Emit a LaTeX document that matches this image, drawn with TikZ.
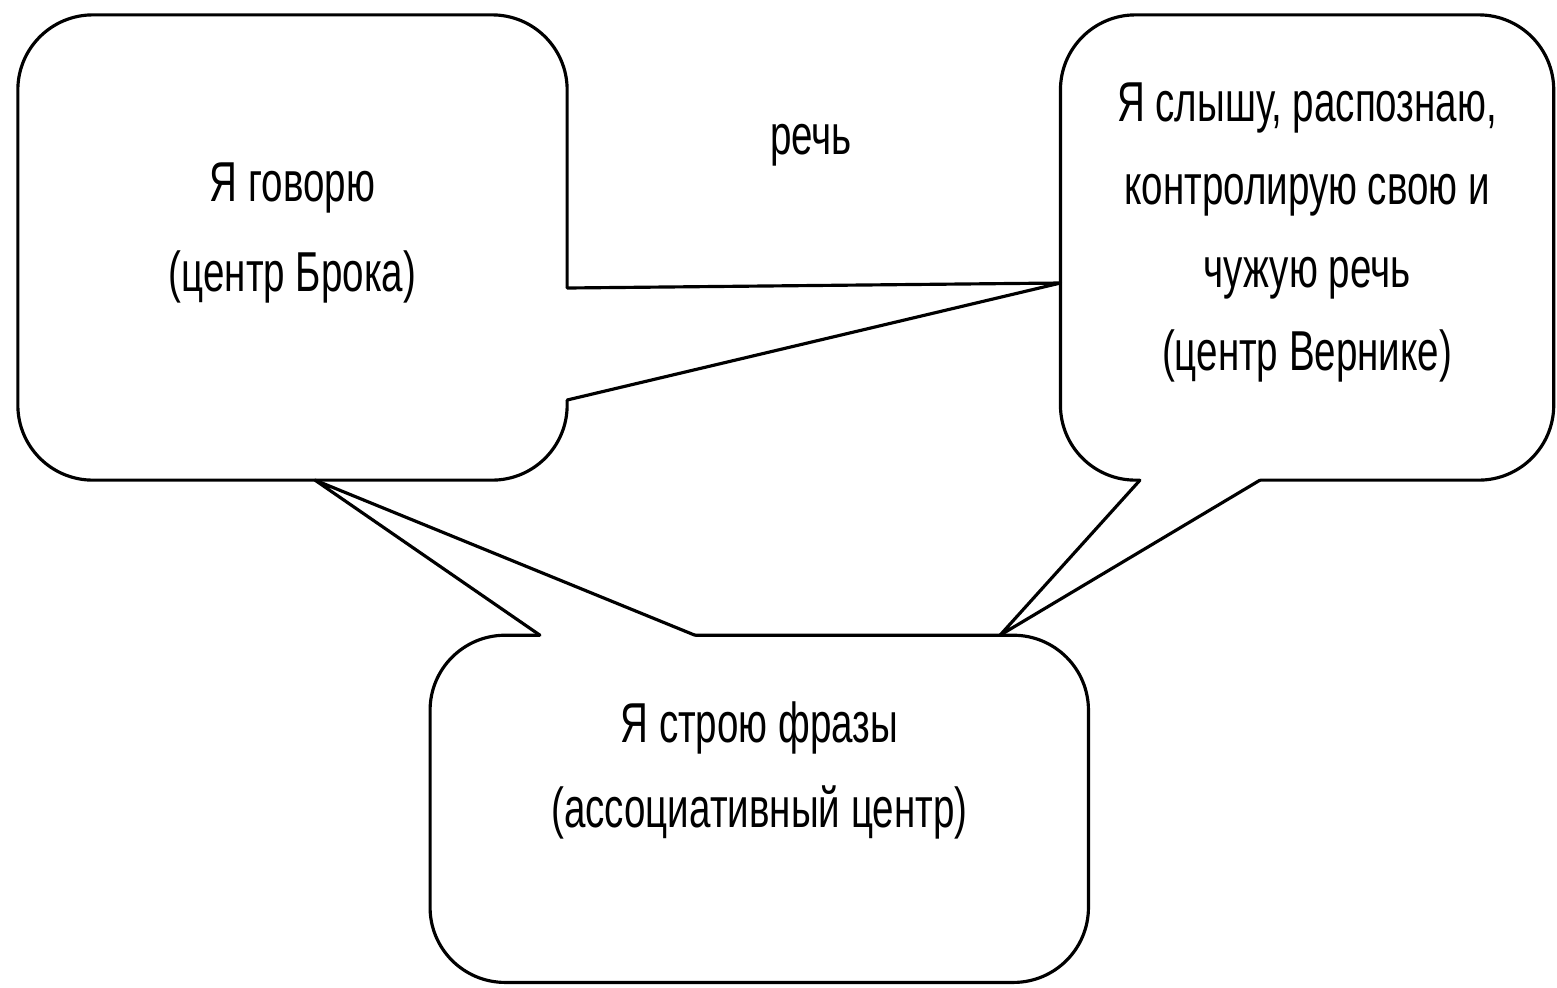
\documentclass[tikz,border=0pt]{standalone}
\usepackage{fontspec}
\setmainfont{Liberation Sans}[FakeStretch=0.685]
\usetikzlibrary{positioning}
\tikzset{centre/.style={draw,
                        fill=white,
                        line width=0.9pt,
                        rounded corners=0.75cm,
                        inner sep=0pt,
                        outer sep=0pt
                        },
        centretext/.style={align=center,
                        font=\fontsize{16}{25.6}\selectfont
                        },
        pointer/.style={line width=0.9pt,
                        line cap=round,
                        line join=round
                        },
}
\begin{document}
\begin{tikzpicture}
    [x=0.01cm,y=-0.01cm]
    \useasboundingbox (0,0) rectangle (1557,987);

    % CENTRES
    \node[centre, minimum width=5.49cm, minimum height=4.65cm] (broca) at (292.5,247.5) {};
    \node[centre, minimum width=4.93cm, minimum height=4.65cm, right=4.93cm of broca] (wernicke) {};
    \node[centre, minimum width=6.58cm, minimum height=3.47cm, below=1.55cm of broca, xshift=4.665cm] (assoc) {};

    % POINTERS
    \coordinate (brocaA) at (broca.east |- 0,288);
    \coordinate (brocaB) at (broca.east |- 0,400);
    \coordinate (brocaTip) at (wernicke.west |- 0,283);
    \fill[white] ([xshift=-2pt]brocaA) -- (brocaA) -- (brocaTip) -- (brocaB) -- ([xshift=-2pt]brocaB) -- cycle;
    \draw[pointer] (brocaA) -- (brocaTip) -- (brocaB);

    \coordinate (wernickeA) at (wernicke.south -| 1140,0);
    \coordinate (wernickeB) at (wernicke.south -| 1260,0);
    \coordinate (wernickeTip) at (assoc.north -| 1000,0);
    \fill[white] ([yshift=2pt]wernickeA) -- (wernickeA) -- (wernickeTip) -- (wernickeB) -- ([yshift=2pt]wernickeB) -- cycle;
    \draw[pointer] (wernickeA) -- (wernickeTip) -- (wernickeB);

    \coordinate (assocA) at (assoc.north -| 540,0);
    \coordinate (assocB) at (assoc.north -| 695,0);
    \coordinate (assocTip) at (broca.south -| 315,0);
    \fill[white] ([yshift=-2pt]assocA) -- (assocA) -- (assocTip) -- (assocB) -- ([yshift=-2pt]assocB) -- cycle;
    \draw[pointer] (assocA) -- (assocTip) -- (assocB);

    % TEXTS
    \node[centretext, yshift=0.15cm] (brocaText) at (broca) {Я говорю\\(центр Брока)};
    \node[centretext, font=\fontsize{16}{23.6}\selectfont, yshift=0.155cm] (wernickeText) at (wernicke)
        {Я слышу, распознаю,\\контролирую свою и\\чужую речь\\(центр Вернике)};
    \node[centretext, font=\fontsize{16}{24}\selectfont, yshift=0.385cm] (assocText) at (assoc)
        {Я строю фразы\\(ассоциативный центр)};
    \node[centretext] (speech) at (811,145) {речь};

\end{tikzpicture}
\end{document}
